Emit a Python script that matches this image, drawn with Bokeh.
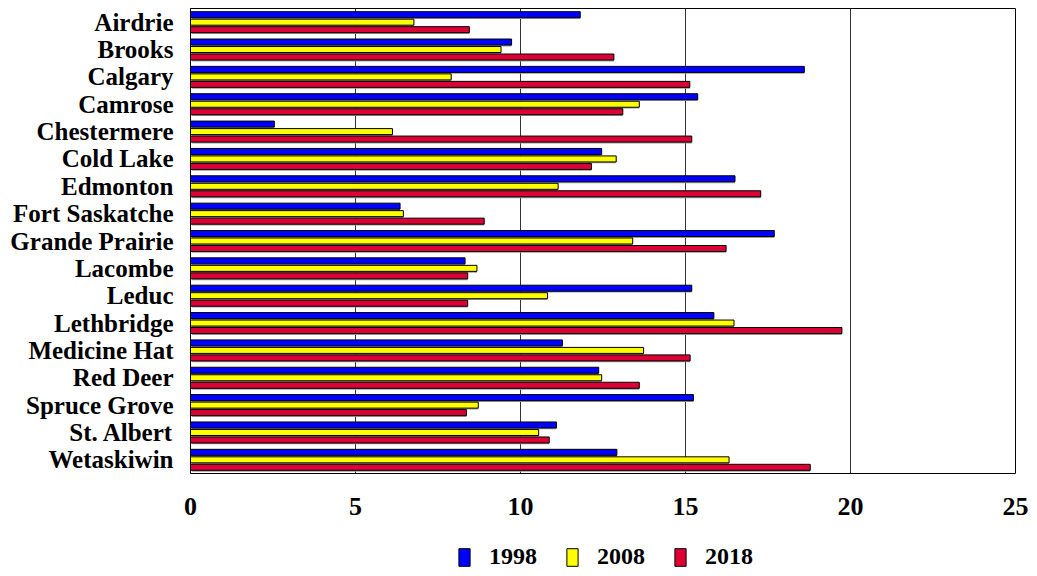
from bokeh.plotting import figure
from bokeh.layouts import column
from bokeh.models import (FactorRange, Range1d, Legend, LegendItem, ColumnDataSource,
                          SingleIntervalTicker)
from bokeh.transform import dodge
from bokeh.embed import file_html
from bokeh.resources import INLINE

cities = ["Airdrie", "Brooks", "Calgary", "Camrose", "Chestermere", "Cold Lake",
          "Edmonton", "Fort Saskatche", "Grande Prairie", "Lacombe", "Leduc",
          "Lethbridge", "Medicine Hat", "Red Deer", "Spruce Grove", "St. Albert",
          "Wetaskiwin"]
years = ["1998", "2008", "2018"]
v1998 = [11.81, 9.73, 18.60, 15.37, 2.54, 12.46, 16.50, 6.35, 17.69, 8.32, 15.19,
         15.86, 11.27, 12.37, 15.24, 11.09, 12.92]
v2008 = [6.77, 9.41, 7.90, 13.60, 6.12, 12.90, 11.14, 6.45, 13.40, 8.68, 10.82,
         16.47, 13.73, 12.46, 8.72, 10.55, 16.32]
v2018 = [8.45, 12.83, 15.13, 13.10, 15.19, 12.15, 17.28, 8.90, 16.23, 8.40, 8.40,
         19.74, 15.14, 13.60, 8.36, 10.87, 18.78]
colors = ["#0000FF", "#FFFF00", "#DC0035"]

source = ColumnDataSource(dict(city=cities, v1998=v1998, v2008=v2008, v2018=v2018))

FONT = "Liberation Serif"

p = figure(width=1036, height=530,
           y_range=FactorRange(*reversed(cities), range_padding=0),
           x_range=Range1d(0, 25),
           output_backend="svg", toolbar_location=None,
           min_border_left=190, min_border_right=21, min_border_top=8,
           min_border_bottom=57)

bar_h = 0.22
step = 0.274
offsets = [step, 0.0, -step]
for yr, col, off in zip(years, colors, offsets):
    # drop shadow
    p.hbar(y=dodge("city", off - 0.05, range=p.y_range), right="v" + yr,
           left=0.05, height=bar_h, source=source,
           fill_color="#9a9a9a", line_color=None)
    p.hbar(y=dodge("city", off, range=p.y_range), right="v" + yr, left=0,
           height=bar_h, source=source,
           fill_color=col, line_color="black", line_width=1)

p.xaxis.ticker = SingleIntervalTicker(interval=5)
p.xaxis.axis_line_color = None
p.xaxis.major_tick_line_color = None
p.xaxis.major_tick_out = 0
p.xaxis.minor_tick_line_color = None
p.xaxis.minor_tick_out = 0
p.xaxis.major_label_standoff = 24
p.xaxis.major_label_text_font = FONT
p.xaxis.major_label_text_font_style = "bold"
p.xaxis.major_label_text_font_size = "26px"
p.xaxis.major_label_text_color = "black"

p.yaxis.axis_line_color = "black"
p.yaxis.major_tick_line_color = None
p.yaxis.major_tick_out = 0
p.yaxis.minor_tick_line_color = None
p.yaxis.minor_tick_out = 0
p.yaxis.major_label_standoff = 17
p.yaxis.major_label_text_font = FONT
p.yaxis.major_label_text_font_style = "bold"
p.yaxis.major_label_text_font_size = "25px"
p.yaxis.major_label_text_color = "black"

p.ygrid.grid_line_color = None
p.xgrid.ticker = SingleIntervalTicker(interval=5)
p.xgrid.grid_line_color = "#333333"
p.xgrid.grid_line_width = 1

p.outline_line_color = "black"
p.outline_line_width = 1
p.background_fill_color = "white"
p.border_fill_color = "white"

# legend strip below the chart (swatch-only renderers with no drawable extent)
leg = figure(width=1036, height=45, output_backend="svg", toolbar_location=None,
             x_range=Range1d(0, 1), y_range=Range1d(0, 1), min_border=0)
leg.axis.visible = False
leg.grid.visible = False
leg.outline_line_color = None
items = []
for yr, col in zip(years, colors):
    r = leg.hbar(y=[0.5], right=[float("nan")], left=0, height=1, fill_color=col,
                 line_color="black", line_width=1)
    items.append(LegendItem(label=yr, renderers=[r]))
legend = Legend(items=items, orientation="horizontal", location=(267, 5),
                glyph_width=14, glyph_height=22, label_standoff=18, spacing=28,
                label_text_font=FONT, label_text_font_style="bold",
                label_text_font_size="24px", label_text_color="black", label_height=22,
                border_line_alpha=0, background_fill_alpha=0, padding=0, margin=0)
leg.add_layout(legend, "center")

open("out.html", "w").write(file_html(column(p, leg, spacing=0), INLINE))
